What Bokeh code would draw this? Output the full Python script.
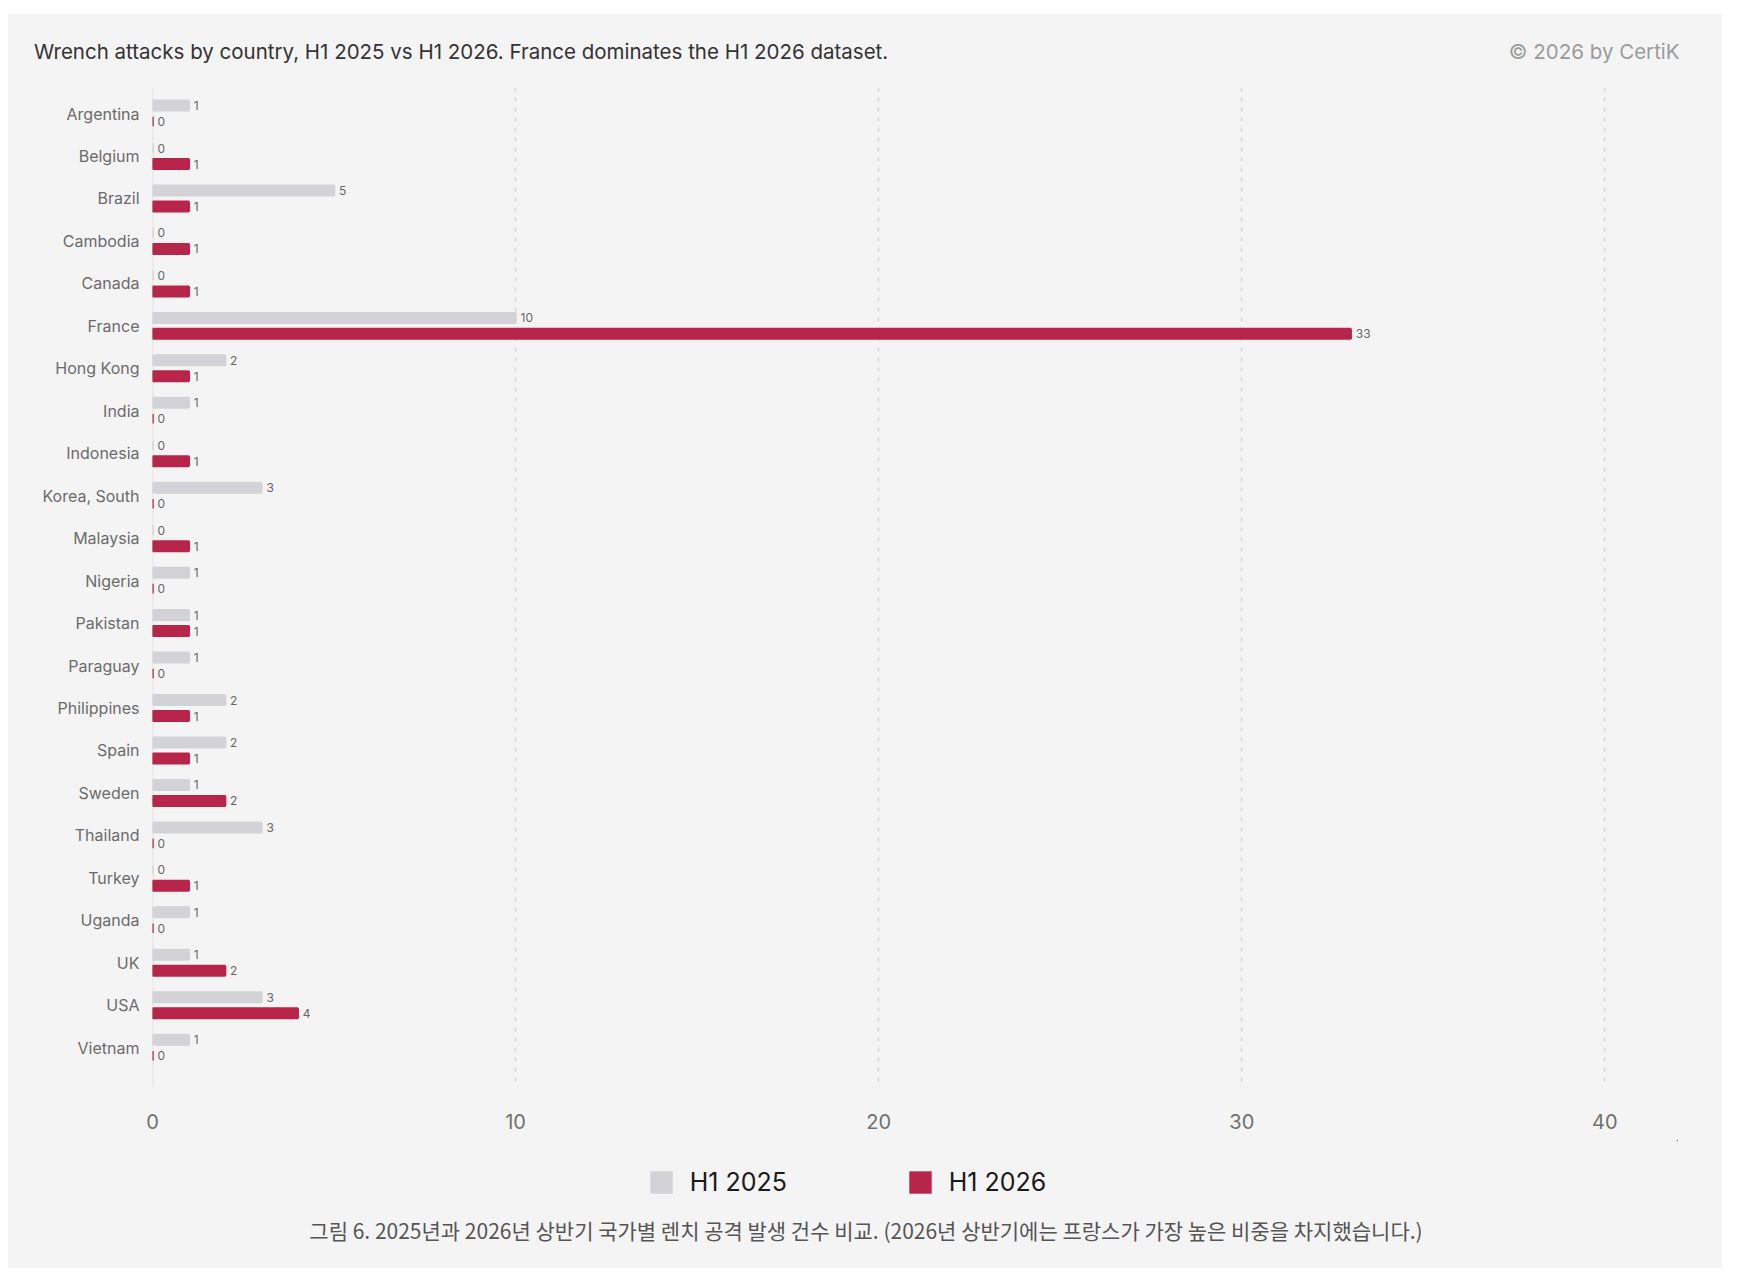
from bokeh.plotting import figure
from bokeh.layouts import column
from bokeh.models import (ColumnDataSource, Range1d, FixedTicker, Legend, LegendItem,
                          Label, Span, Div)
from bokeh.transform import dodge
from bokeh.core.properties import value
from bokeh.core.validation import silence
from bokeh.core.validation.warnings import MISSING_RENDERERS
from bokeh.embed import file_html
from bokeh.resources import INLINE

silence(MISSING_RENDERERS, True)

# ---------------- data ----------------
countries = ["Argentina", "Belgium", "Brazil", "Cambodia", "Canada", "France",
             "Hong Kong", "India", "Indonesia", "Korea, South", "Malaysia",
             "Nigeria", "Pakistan", "Paraguay", "Philippines", "Spain", "Sweden",
             "Thailand", "Turkey", "Uganda", "UK", "USA", "Vietnam"]
h1_2025 = [1, 0, 5, 0, 0, 10, 2, 1, 0, 3, 0, 1, 1, 1, 2, 2, 1, 3, 0, 1, 1, 3, 1]
h1_2026 = [0, 1, 1, 1, 1, 33, 1, 0, 1, 0, 1, 0, 1, 0, 1, 1, 2, 0, 1, 0, 2, 4, 0]
x_ticks = [0, 10, 20, 30, 40]
series_names = ["H1 2025", "H1 2026"]

title_text = "Wrench attacks by country, H1 2025 vs H1 2026. France dominates the H1 2026 dataset."
credit_text = "\u00a9 2026 by CertiK"
caption_text = ("그림 6. 2025년과 2026년 상반기 국가별 렌치 공격 발생 건수 비교. "
                "(2026년 상반기에는 프랑스가 가장 높은 비중을 차지했습니다.)")

# ---------------- style ----------------
BG = "#f4f4f4"
GRAY = "#d3d2d6"
RED = "#b8254a"
FONT = "Inter"
KFONT = "Noto Sans CJK KR"
W = 1714
OFF = 0.188
LW = 2.5
BH = 0.224

# ---------------- header (title + credit) ----------------
span_css = ("position:absolute;top:37.7px;transform:translateY(-50%);display:block;"
            "white-space:nowrap;line-height:1.2;")
header = Div(
    text=(f'<div style="position:relative;width:{W}px;height:73px;'
          f'font-family:Inter;font-size:20.5px;">'
          f'<span style="{span_css}left:26px;color:#333333;">{title_text}</span>'
          f'<span style="{span_css}right:42.4px;color:#9b9b9b;">{credit_text}</span>'
          f'</div>'),
    width=W, height=73, margin=0, styles={"background-color": BG})

# ---------------- main chart ----------------
n = len(countries)
src = ColumnDataSource(dict(
    idx=list(range(n)),
    v25=h1_2025,
    v26=h1_2026,
    t25=[str(v) for v in h1_2025],
    t26=[str(v) for v in h1_2026],
))

p = figure(width=W, height=1053,
           x_range=Range1d(0, 42),
           y_range=Range1d(n - 1 + 0.937, -0.614),
           output_backend="svg", toolbar_location=None,
           min_border_left=144, min_border_right=45,
           min_border_top=0, min_border_bottom=53,
           background_fill_color=BG, border_fill_color=BG,
           outline_line_color=None)
p.title.visible = False

# light baseline at x = 0 (under the bars)
p.add_layout(Span(location=0, dimension="height", line_color="#e2e2e2",
                  line_width=2, level="underlay"))

r25 = p.hbar(y=dodge("idx", -OFF), left=0, right="v25", height=BH, source=src,
             fill_color=GRAY, line_color=GRAY, line_width=LW)
r26 = p.hbar(y=dodge("idx", OFF), left=0, right="v26", height=BH, source=src,
             fill_color=RED, line_color=RED, line_width=LW)

lab_style = dict(source=src, x_offset=5, text_baseline="middle", text_align="left",
                 text_font_size="12px", text_color="#666666", text_font=value(FONT))
p.text(x="v25", y=dodge("idx", -OFF), text="t25", **lab_style)
p.text(x="v26", y=dodge("idx", OFF), text="t26", **lab_style)

# y axis (countries)
yax = p.yaxis[0]
yax.ticker = FixedTicker(ticks=list(range(n)))
yax.major_label_overrides = {i: c for i, c in enumerate(countries)}
yax.major_tick_line_color = None
yax.minor_tick_line_color = None
yax.major_tick_out = 0
yax.major_tick_in = 0
yax.axis_line_color = None
yax.major_label_standoff = 13
yax.major_label_text_font = FONT
yax.major_label_text_font_size = "16px"
yax.major_label_text_color = "#6b6b6b"

# x axis
xax = p.xaxis[0]
xax.ticker = FixedTicker(ticks=x_ticks)
xax.axis_line_color = None
xax.major_tick_line_color = None
xax.minor_tick_line_color = None
xax.major_tick_out = 0
xax.major_tick_in = 0
xax.major_label_standoff = 26
xax.major_label_text_font = FONT
xax.major_label_text_font_size = "20px"
xax.major_label_text_color = "#707070"

p.xgrid.grid_line_color = "#d6d6d6"
p.xgrid.grid_line_width = 1.5
p.xgrid.grid_line_dash = "4 6"
p.ygrid.grid_line_color = None

# ---------------- footer (legend + caption) ----------------
# The footer's ranges lie away from the data, so its series renderers only
# provide the legend swatches.
foot = figure(width=W, height=128, x_range=Range1d(-2, -1), y_range=Range1d(-3, -2),
              x_axis_type=None, y_axis_type=None, output_backend="svg",
              toolbar_location=None, min_border=0,
              background_fill_color=BG, border_fill_color=BG,
              outline_line_color=None)
foot.title.visible = False
g25 = foot.hbar(y="idx", left=0, right="v25", height=BH, source=src,
                fill_color=GRAY, line_color=None)
g26 = foot.hbar(y="idx", left=0, right="v26", height=BH, source=src,
                fill_color=RED, line_color=None)

legend = Legend(items=[LegendItem(label=series_names[0], renderers=[g25]),
                       LegendItem(label=series_names[1], renderers=[g26])],
                orientation="horizontal", location=(494.7, 70.7),
                glyph_width=28, glyph_height=28, label_standoff=15,
                label_width=216, label_height=28, spacing=0, padding=0, margin=0,
                border_line_color=None, background_fill_alpha=0,
                label_text_font=FONT, label_text_font_size="25px",
                label_text_color="#1a1a1a", label_text_baseline="middle")
foot.add_layout(legend)
foot.add_layout(Label(x=713.5, y=39, x_units="screen", y_units="screen",
                      text=caption_text, text_font=KFONT, text_font_size="21px",
                      text_color="#555555", text_baseline="middle", text_align="center"))

page = column(header, p, foot, spacing=0, margin=(14, 0, 0, 8),
              styles={"background-color": BG})

open("out.html", "w").write(file_html(page, INLINE))
